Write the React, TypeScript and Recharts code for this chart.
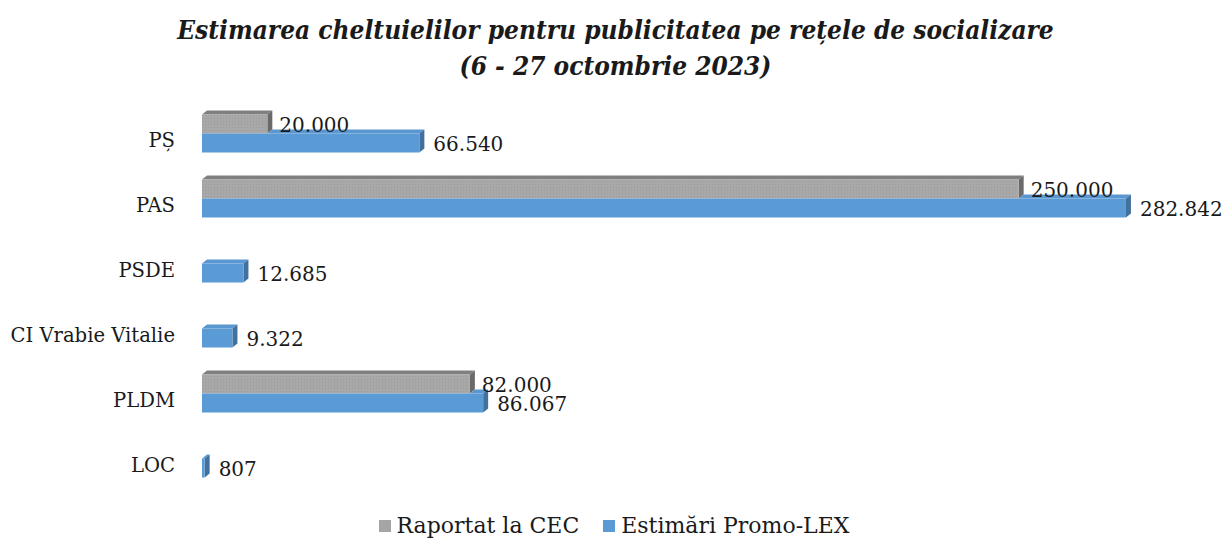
import { BarChart, Bar, XAxis, YAxis, Legend, LabelList } from "recharts";

const categories = ["PȘ", "PAS", "PSDE", "CI Vrabie Vitalie", "PLDM", "LOC"];
const reportedCEC = [20000, 250000, null, null, 82000, null];
const estimatedPromoLex = [66540, 282842, 12685, 9322, 86067, 807];

const SERIES = [
  { key: "reported", name: "Raportat la CEC", color: "#a5a5a5" },
  { key: "estimated", name: "Estimări Promo-LEX", color: "#5b9bd5" },
];

const FONT = "'DejaVu Serif', serif";
const LIFT = 7; // 3d front face sits a bit above the band slot
const DX = 5;
const DY = 4;

const data = categories.map((name, i) => ({
  name,
  reported: reportedCEC[i],
  estimated: estimatedPromoLex[i],
}));

const fmt = (v: number) => String(v).replace(/\B(?=(\d{3})+(?!\d))/g, ".");

const GrayBar = (props: any) => {
  const { x, y, width, height, payload } = props;
  if (payload.reported == null) return null;
  const fy = y - LIFT;
  const r = x + width;
  return (
    <g>
      <polygon
        points={`${x},${fy} ${x + DX},${fy - DY} ${r + DX},${fy - DY} ${r},${fy}`}
        fill="#7f7f7f"
      />
      <polygon
        points={`${r},${fy} ${r + DX},${fy - DY} ${r + DX},${fy + height - DY} ${r},${fy + height}`}
        fill="#6a6a6a"
      />
      <rect x={x} y={fy} width={width} height={height} fill="url(#grayDots)" />
    </g>
  );
};

const BlueBar = (props: any) => {
  const { x, y, width, height, payload } = props;
  if (payload.estimated == null) return null;
  const fy = y - LIFT;
  const r = x + width;
  // top face only where the gray bar does not cover it
  const grayW = payload.reported != null ? (width * payload.reported) / payload.estimated : 0;
  const x0 = Math.min(x + grayW, r);
  return (
    <g>
      <polygon
        points={`${x0},${fy} ${x0 + DX},${fy - DY} ${r + DX},${fy - DY} ${r},${fy}`}
        fill="#5a96cf"
      />
      <polygon
        points={`${r},${fy} ${r + DX},${fy - DY} ${r + DX},${fy + height - DY} ${r},${fy + height}`}
        fill="#41719c"
      />
      <rect x={x} y={fy} width={width} height={height} fill="#5b9bd5" />
    </g>
  );
};

const ValueLabel = (props: any) => {
  const { x, y, width, height, value, gap, dy } = props;
  if (value == null) return null;
  return (
    <text
      x={x + width + gap}
      y={y - LIFT + height / 2 + dy}
      dominantBaseline="central"
      fontFamily={FONT}
      fontSize={20}
      fill="#1a1a1a"
    >
      {fmt(value)}
    </text>
  );
};

const CategoryTick = (props: any) => {
  const { x, y, payload } = props;
  return (
    <text x={x} y={y} textAnchor="end" dominantBaseline="central" fontFamily={FONT} fontSize={19.6} fill="#1a1a1a">
      {payload.value}
    </text>
  );
};

const LegendContent = () => (
  <div
    style={{
      height: 40,
      display: "flex",
      justifyContent: "center",
      alignItems: "center",
      paddingTop: 16,
      paddingLeft: 46,
      boxSizing: "border-box",
      fontFamily: FONT,
      fontSize: 22,
      color: "#1a1a1a",
    }}
  >
    {SERIES.map((s) => (
      <div key={s.key} style={{ display: "flex", alignItems: "center", margin: "0 12px" }}>
        <span style={{ width: 12, height: 12, background: s.color, marginRight: 6, display: "inline-block" }} />
        <span>{s.name}</span>
      </div>
    ))}
  </div>
);

export default function App() {
  return (
    <div style={{ position: "absolute", left: 0, top: 0, width: 1231, height: 541, background: "#fff" }}>
      <div
        style={{
          position: "absolute",
          top: 12,
          left: 0,
          width: 1231,
          textAlign: "center",
          fontFamily: FONT,
          fontStyle: "italic",
          fontWeight: "bold",
          fontStretch: "condensed",
          fontSize: 26,
          lineHeight: "36px",
          color: "#1a1a1a",
        }}
      >
        Estimarea cheltuielilor pentru publicitatea pe rețele de socializare
        <br />
        (6 - 27 octombrie 2023)
      </div>
      <BarChart
        width={1231}
        height={541}
        data={data}
        layout="vertical"
        barGap={0}
        barSize={19}
        margin={{ top: 107.5, right: 49, bottom: 3.5, left: 0 }}
      >
        <defs>
          <pattern id="grayDots" width="3" height="3" patternUnits="userSpaceOnUse">
            <rect width="3" height="3" fill="#a8a8a8" />
            <rect x="1" y="1" width="1" height="1" fill="#9a9a9a" />
          </pattern>
        </defs>
        <XAxis type="number" domain={[0, 300000]} hide />
        <YAxis
          type="category"
          dataKey="name"
          width={202}
          axisLine={false}
          tickLine={false}
          tickSize={0}
          tickMargin={27}
          tick={<CategoryTick />}
        />
        <Legend verticalAlign="bottom" height={40} content={<LegendContent />} />
        <Bar dataKey="reported" name={SERIES[0].name} fill={SERIES[0].color} shape={<GrayBar />} isAnimationActive={false}>
          <LabelList dataKey="reported" content={<ValueLabel gap={12} dy={1} />} />
        </Bar>
        <Bar dataKey="estimated" name={SERIES[1].name} fill={SERIES[1].color} shape={<BlueBar />} isAnimationActive={false}>
          <LabelList dataKey="estimated" content={<ValueLabel gap={14} dy={1} />} />
        </Bar>
      </BarChart>
    </div>
  );
}
